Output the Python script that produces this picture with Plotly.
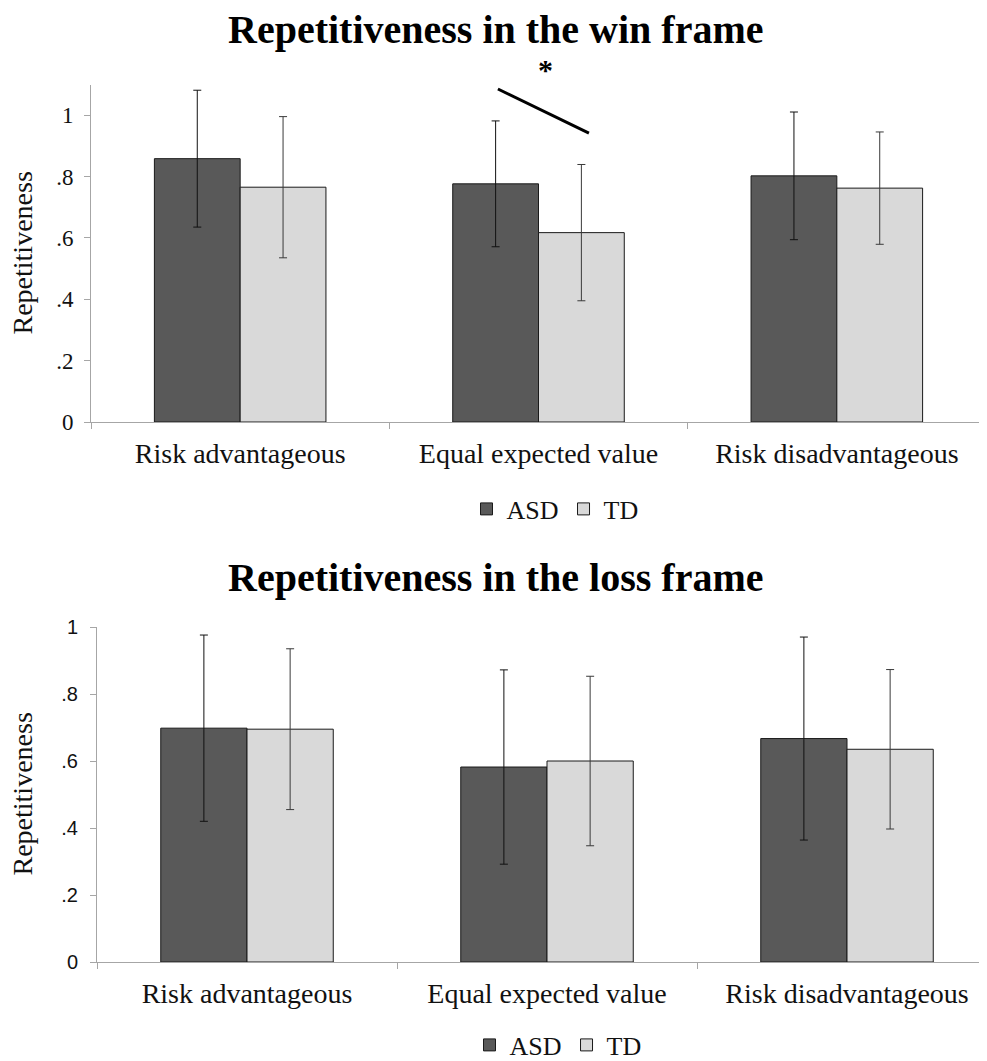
import plotly.graph_objects as go

categories = ["Risk advantageous", "Equal expected value", "Risk disadvantageous"]
groups = ["ASD", "TD"]

# Win frame
win_asd = [0.858, 0.776, 0.802]
win_asd_err = [0.223, 0.205, 0.208]
win_td = [0.765, 0.617, 0.762]
win_td_err = [0.230, 0.222, 0.183]

# Loss frame
loss_asd = [0.698, 0.582, 0.667]
loss_asd_err = [0.278, 0.290, 0.303]
loss_td = [0.695, 0.600, 0.635]
loss_td_err = [0.240, 0.253, 0.238]

y_ticks_vals = [0, 0.2, 0.4, 0.6, 0.8, 1.0]
y_ticks_text = ["0", ".2", ".4", ".6", ".8", "1"]

colors = {"ASD": "#595959", "TD": "#d9d9d9"}
err_colors = {"ASD": "#111111", "TD": "#3a3a3a"}
SERIF = "Liberation Serif, Times New Roman, serif"
SANS = "Liberation Sans, Arial, sans-serif"

W, H = 987, 1061
OFF = 8  # page body margin


def px_x(p):
    return (p - OFF) / W


def px_y(p):
    return 1 - (p - OFF) / H


fig = go.Figure()


def add_bars(vals_asd, err_asd, vals_td, err_td, xa, ya, legend):
    for name, vals, errs in [("ASD", vals_asd, err_asd), ("TD", vals_td, err_td)]:
        fig.add_trace(go.Bar(
            x=categories, y=vals, name=name,
            marker=dict(color=colors[name], line=dict(color="#1a1a1a", width=1)),
            error_y=dict(type="data", array=errs, color=err_colors[name], thickness=1, width=4),
            xaxis=xa, yaxis=ya, legend=legend,
        ))


add_bars(win_asd, win_asd_err, win_td, win_td_err, "x", "y", "legend")
add_bars(loss_asd, loss_asd_err, loss_td, loss_td_err, "x2", "y2", "legend2")

axis_line = "#a6a6a6"
common_x = dict(showline=True, linecolor=axis_line, linewidth=1, ticks="outside",
                tickson="boundaries", ticklen=6, tickcolor=axis_line, showgrid=False,
                tickfont=dict(family=SERIF, size=28, color="#111"), zeroline=False,
                automargin=False, ticklabelstandoff=6)
common_y = dict(showline=True, linecolor=axis_line, linewidth=1, ticks="outside",
                ticklen=6, tickcolor=axis_line, showgrid=False, zeroline=False,
                tickvals=y_ticks_vals, ticktext=y_ticks_text, automargin=False)

x2_left = px_x(97)
x2_span = (1.0 - x2_left) * W / 300.0

fig.update_layout(
    width=W, height=H,
    margin=dict(l=0, r=0, t=0, b=0, autoexpand=False),
    paper_bgcolor="white", plot_bgcolor="white",
    barmode="group", bargap=0.425, bargroupgap=0,
    xaxis=dict(domain=[px_x(91), px_x(986)], anchor="y", range=[-0.5, 2.5], **common_x),
    yaxis=dict(domain=[px_y(422), px_y(85)], anchor="x", range=[0, 1.098],
               tickfont=dict(family=SERIF, size=23, color="#111"), ticklabelstandoff=6,
               **common_y),
    xaxis2=dict(domain=[x2_left, 1.0], anchor="y2", range=[-0.5, -0.5 + x2_span], **common_x),
    yaxis2=dict(domain=[px_y(962), px_y(627)], anchor="x2", range=[0, 1.0],
                tickfont=dict(family=SANS, size=20, color="#111"), ticklabelstandoff=8,
                **common_y),
    legend=dict(orientation="h", x=px_x(555), xanchor="center", y=px_y(509), yanchor="middle",
                font=dict(family=SERIF, size=26, color="#111"), itemwidth=30,
                traceorder="normal"),
    legend2=dict(orientation="h", x=px_x(558), xanchor="center", y=px_y(1045), yanchor="middle",
                 font=dict(family=SERIF, size=26, color="#111"), itemwidth=30,
                 traceorder="normal"),
    showlegend=True,
)

# Titles and axis titles
fig.add_annotation(text="<b>Repetitiveness in the win frame</b>", xref="paper", yref="paper",
                   x=px_x(495), y=px_y(30), showarrow=False, yanchor="middle",
                   font=dict(family=SERIF, size=40, color="#000"))
fig.add_annotation(text="<b>Repetitiveness in the loss frame</b>", xref="paper", yref="paper",
                   x=px_x(495), y=px_y(577), showarrow=False, yanchor="middle",
                   font=dict(family=SERIF, size=40, color="#000"))
for ymid in [(85 + 422) / 2, (627 + 962) / 2]:
    fig.add_annotation(text="Repetitiveness", xref="paper", yref="paper",
                       x=px_x(22), y=px_y(ymid), showarrow=False, textangle=-90,
                       xanchor="center", yanchor="middle",
                       font=dict(family=SERIF, size=28, color="#111"))

# Significance marker on the equal expected value comparison (win frame)
fig.add_shape(type="line", xref="x", yref="y", x0=0.864, x1=1.169, y0=1.085, y1=0.941,
              line=dict(color="black", width=3))
fig.add_annotation(text="<b>*</b>", xref="x", yref="y domain", x=1.022, y=1.15 / 1.098,
                   showarrow=False, yanchor="middle",
                   font=dict(family=SERIF, size=30, color="#000"))

fig.write_html("out.html")
